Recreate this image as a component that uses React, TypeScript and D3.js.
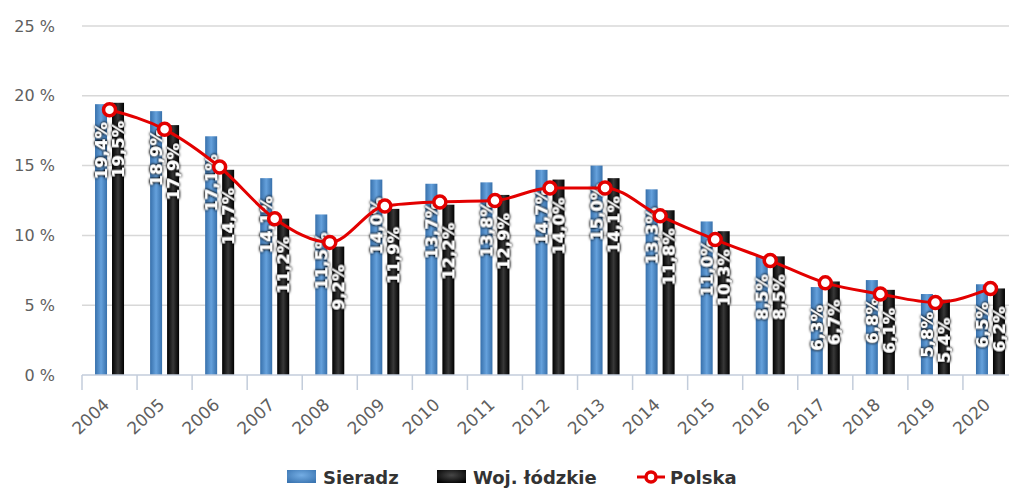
import React from 'react';
import * as d3 from 'd3';

const years = ['2004', '2005', '2006', '2007', '2008', '2009', '2010', '2011', '2012', '2013', '2014', '2015', '2016', '2017', '2018', '2019', '2020'];
const sieradz = [19.4, 18.9, 17.1, 14.1, 11.5, 14.0, 13.7, 13.8, 14.7, 15.0, 13.3, 11.0, 8.5, 6.3, 6.8, 5.8, 6.5];
const lodzkie = [19.5, 17.9, 14.7, 11.2, 9.2, 11.9, 12.2, 12.9, 14.0, 14.1, 11.8, 10.3, 8.5, 6.7, 6.1, 5.4, 6.2];
const polska = [19.0, 17.6, 14.9, 11.2, 9.5, 12.1, 12.4, 12.5, 13.4, 13.4, 11.4, 9.7, 8.2, 6.6, 5.8, 5.2, 6.2];
const yTicks = [0, 5, 10, 15, 20, 25];
const seriesNames = ['Sieradz', 'Woj. łódzkie', 'Polska'];

const W = 1009;
const H = 488;
const FONT = '"DejaVu Sans", Verdana, sans-serif';

export default function App() {
  const x = d3.scaleBand<string>().domain(years).range([82, 1018]).padding(0);
  const y = d3.scaleLinear().domain([0, 25]).range([375, 26]);
  const inner = d3.scaleBand<string>().domain(['s', 'l']).range([-14.5, 14.5]).paddingInner(0.294).paddingOuter(0);
  const cx = (i: number) => (x(years[i]) as number) + x.bandwidth() / 2;
  const bw = inner.bandwidth();
  const fmt = (v: number) => v.toFixed(1).replace('.', ',') + '%';

  const line = d3
    .line<number>()
    .x((_, i) => cx(i))
    .y((d) => y(d))
    .curve(d3.curveMonotoneX);

  const ticksX = years.map((yr) => x(yr) as number).concat([x.range()[1]]);

  const series = [
    { key: 's', data: sieradz, fill: 'url(#gBlue)' },
    { key: 'l', data: lodzkie, fill: 'url(#gBlack)' },
  ];

  return (
    <svg width={W} height={H} style={{ position: 'absolute', left: 0, top: 0, fontFamily: FONT }}>
      <defs>
        <linearGradient id="gBlue" x1="0" x2="1" y1="0" y2="0">
          <stop offset="0" stopColor="#3770ab" />
          <stop offset="0.5" stopColor="#65a1dc" />
          <stop offset="1" stopColor="#3770ab" />
        </linearGradient>
        <linearGradient id="gBlack" x1="0" x2="1" y1="0" y2="0">
          <stop offset="0" stopColor="#000000" />
          <stop offset="0.5" stopColor="#383838" />
          <stop offset="1" stopColor="#000000" />
        </linearGradient>
        <radialGradient id="rBlue" cx="0.5" cy="0.4" r="0.7">
          <stop offset="0" stopColor="#74ade4" />
          <stop offset="1" stopColor="#3a74b0" />
        </radialGradient>
        <radialGradient id="rBlack" cx="0.5" cy="0.4" r="0.7">
          <stop offset="0" stopColor="#474747" />
          <stop offset="1" stopColor="#000000" />
        </radialGradient>
        <filter id="glow" x="-30%" y="-30%" width="160%" height="160%">
          <feGaussianBlur in="SourceAlpha" stdDeviation="1.8" result="blur" />
          <feComponentTransfer in="blur" result="blur2">
            <feFuncA type="linear" slope="2.0" />
          </feComponentTransfer>
          <feFlood floodColor="#000" result="c" />
          <feComposite in="c" in2="blur2" operator="in" result="shadow" />
          <feMerge>
            <feMergeNode in="shadow" />
            <feMergeNode in="SourceGraphic" />
          </feMerge>
        </filter>
      </defs>

      {/* gridlines */}
      {yTicks.filter((t) => t > 0).map((t) => (
        <line key={'g' + t} x1={82} x2={1018} y1={y(t)} y2={y(t)} stroke="#d8d8d8" strokeWidth={1.5} />
      ))}

      {/* y labels */}
      {yTicks.map((t) => (
        <text key={'yl' + t} x={55} y={y(t)} textAnchor="end" dominantBaseline="central" fontSize={16} fill="#606060">
          {t + ' %'}
        </text>
      ))}

      {/* bars */}
      {series.map((s) =>
        s.data.map((v, i) => (
          <rect
            key={s.key + i}
            x={cx(i) + (inner(s.key) as number)}
            y={y(v)}
            width={bw}
            height={y(0) - y(v)}
            fill={s.fill}
          />
        ))
      )}

      {/* axis */}
      <line x1={82} x2={1018} y1={375} y2={375} stroke="#c3cddb" strokeWidth={1.5} />
      {ticksX.map((tx, i) => (
        <line key={'t' + i} x1={tx} x2={tx} y1={375} y2={390} stroke="#c3cddb" strokeWidth={1.5} />
      ))}
      {years.map((yr, i) => (
        <text
          key={'xl' + yr}
          transform={`translate(${cx(i) + 1},${406}) rotate(-43)`}
          textAnchor="end"
          fontSize={17}
          fill="#606060"
        >
          {yr}
        </text>
      ))}

      {/* data labels */}
      {series.map((s) =>
        s.data.map((v, i) => (
          <text
            key={'dl' + s.key + i}
            transform={`translate(${cx(i) + (inner(s.key) as number) + bw / 2},${y(v) + 18}) rotate(-90)`}
            textAnchor="end"
            dominantBaseline="central"
            fontSize={16.5}
            fontWeight="bold"
            fill="#ffffff"
            filter="url(#glow)"
          >
            {fmt(v)}
          </text>
        ))
      )}

      {/* Polska line */}
      <path d={line(polska) || ''} fill="none" stroke="#e30000" strokeWidth={3} />
      {polska.map((v, i) => (
        <circle key={'m' + i} cx={cx(i)} cy={y(v)} r={6} fill="#ffffff" stroke="#e30000" strokeWidth={3.5} />
      ))}

      {/* legend */}
      <g fontSize={18} fontWeight="bold" fill="#333333">
        <rect x={287} y={470} width={29} height={13} fill="url(#rBlue)" />
        <text x={323} y={477} dominantBaseline="central">{seriesNames[0]}</text>
        <rect x={437} y={470} width={29} height={13} fill="url(#rBlack)" />
        <text x={473} y={477} dominantBaseline="central">{seriesNames[1]}</text>
        <line x1={637} x2={665} y1={477} y2={477} stroke="#e30000" strokeWidth={3} />
        <circle cx={651} cy={477} r={5} fill="#ffffff" stroke="#e30000" strokeWidth={3.5} />
        <text x={670} y={477} dominantBaseline="central">{seriesNames[2]}</text>
      </g>
    </svg>
  );
}
